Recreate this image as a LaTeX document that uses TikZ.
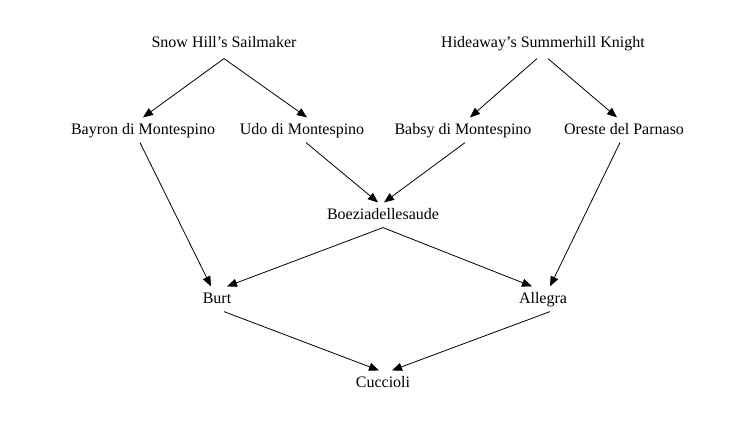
\documentclass[tikz,border=0pt]{standalone}
\usepackage{fontspec}
\setmainfont{Liberation Serif}
\usetikzlibrary{arrows.meta,calc}
\begin{document}
\begin{tikzpicture}[
  x=0.75pt,
  y=-0.75pt,
  font=\fontsize{12}{14}\selectfont,
  horse/.style={inner xsep=0pt, inner ysep=3.75pt, text height=8.5pt, text depth=2.5pt},
  sire/.style={horse, inner ysep=6pt},
  link/.style={line width=0.6pt, -{Triangle[length=7.5pt,width=6pt]}}
]
\useasboundingbox (0,0) rectangle (729,437);

% grandsires
\node[sire] (snow) at (224,43) {Snow Hill's Sailmaker};
\node[sire] (hide) at (543,43) {Hideaway's Summerhill Knight};

% second row
\node[horse] (bayron) at (143,130) {Bayron di Montespino};
\node[horse] (udo) at (302,130) {Udo di Montespino};
\node[horse] (babsy) at (463,130) {Babsy di Montespino};
\node[horse] (oreste) at (624,130) {Oreste del Parnaso};

\node[horse] (boez) at (383,215) {Boeziadellesaude};

\node[horse] (burt) at (217,299) {Burt};
\node[horse] (allegra) at (543,299) {Allegra};

\node[horse] (cucc) at (383,383) {Cuccioli};

% descent lines
\draw[link] (snow.south) -- (bayron.north);
\draw[link] (snow.south) -- ($(udo.north)+(5,0)$);
\draw[link] ($(hide.south)+(-6,0)$) -- ($(babsy.north)+(7,0)$);
\draw[link] ($(hide.south)+(5,0)$) -- ($(oreste.north)+(-7,0)$);

\draw[link] ($(bayron.south)+(-3,0)$) -- ($(burt.north)+(-6,0)$);
\draw[link] ($(udo.south)+(4,0)$) -- ($(boez.north)+(-5,0)$);
\draw[link] ($(babsy.south)+(2,0)$) -- ($(boez.north)+(1,0)$);
\draw[link] ($(oreste.south)+(-4,0)$) -- ($(allegra.north)+(7,0)$);

\draw[link] (boez.south) -- ($(burt.north)+(10,0)$);
\draw[link] (boez.south) -- ($(allegra.north)+(-11,0)$);

\draw[link] ($(burt.south)+(7,0)$) -- ($(cucc.north)+(-4,0)$);
\draw[link] ($(allegra.south)+(7,0)$) -- ($(cucc.north)+(9,0)$);
\end{tikzpicture}
\end{document}
